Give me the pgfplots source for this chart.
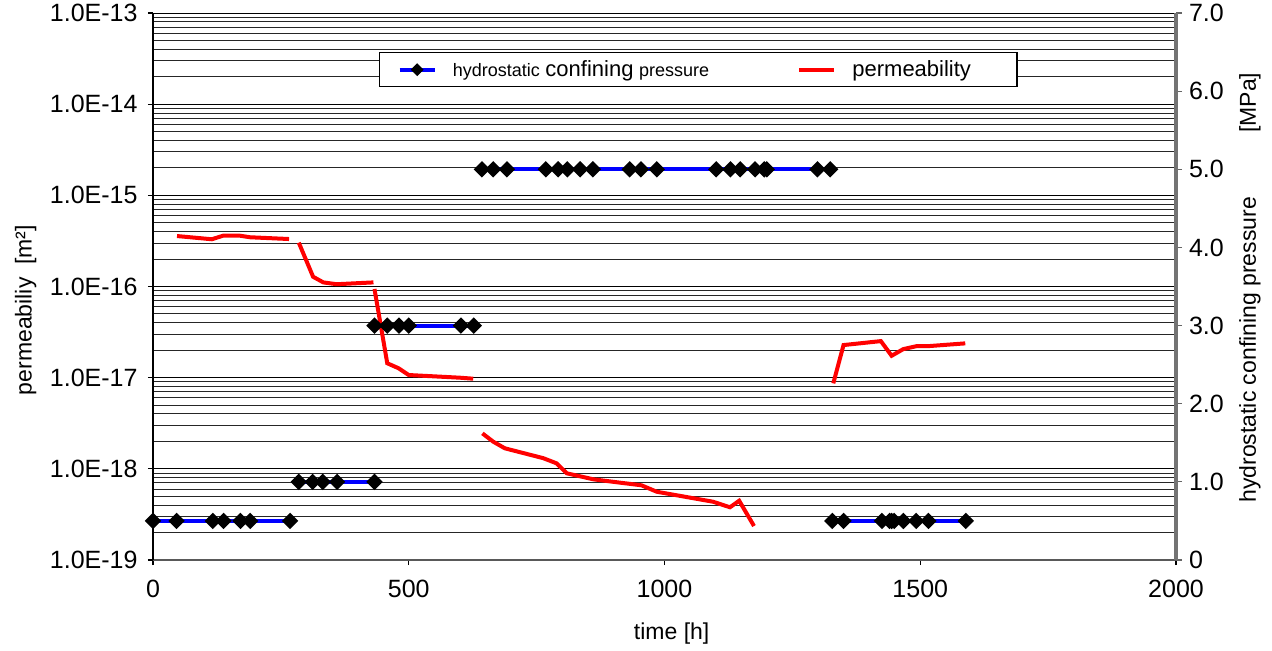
\documentclass[border=0pt]{standalone}
\usepackage{pgfplots}
\pgfplotsset{compat=1.18}
\usepackage{fontspec}
\setmainfont{Liberation Sans}
\newcommand{\tickfont}{\fontsize{12.5}{14}\selectfont}
\newcommand{\labfont}{\fontsize{11.5}{13}\selectfont}
\pgfplotsset{
  pres/.style={blue, line width=2pt, mark=square*, mark size=1.9pt,
     mark options={black, fill=black, rotate=45, solid}},
  perm/.style={red, line width=2pt, no marks},
}
\begin{document}
\begin{tikzpicture}
\path[use as bounding box] (-76.5pt,-45pt) rectangle (559.5pt,280pt);
\begin{axis}[
  at={(0,0)}, anchor=south west,
  scale only axis, width=511.5pt, height=273.5pt,
  xmin=0, xmax=2000, ymode=log, ymin=1e-19, ymax=1e-13,
  axis x line*=bottom, axis y line*=left,
  x axis line style={black!65, line width=1.2pt},
  y axis line style={black, line width=1pt},
  xtick={0,500,1000,1500,2000}, xticklabels={0,500,1000,1500,2000},
  ytick={1e-19,1e-18,1e-17,1e-16,1e-15,1e-14,1e-13},
  yticklabels={1.0E-19,1.0E-18,1.0E-17,1.0E-16,1.0E-15,1.0E-14,1.0E-13},
  minor ytick={2e-19,3e-19,4e-19,5e-19,6e-19,7e-19,8e-19,9e-19,
               2e-18,3e-18,4e-18,5e-18,6e-18,7e-18,8e-18,9e-18,
               2e-17,3e-17,4e-17,5e-17,6e-17,7e-17,8e-17,9e-17,
               2e-16,3e-16,4e-16,5e-16,6e-16,7e-16,8e-16,9e-16,
               2e-15,3e-15,4e-15,5e-15,6e-15,7e-15,8e-15,9e-15,
               2e-14,3e-14,4e-14,5e-14,6e-14,7e-14,8e-14,9e-14},
  ymajorgrids, yminorgrids,
  major grid style={black, line width=0.5pt},
  minor grid style={black!85, line width=0.5pt},
  tick align=outside, major tick length=2.5pt, minor tick length=0pt,
  tick style={black, line width=0.6pt},
  ticklabel style={font=\tickfont},
  yticklabel style={xshift=-1.7pt},
  xticklabel style={yshift=-4pt},
  xlabel={time [h]},
  ylabel={permeabiliy\ \ [m²]},
  xlabel style={font=\labfont, at={(axis description cs:0.507,-0.135)}, anchor=center},
  ylabel style={font=\labfont, at={(axis description cs:-0.1245,0.457)}, anchor=center},
]
\addplot[perm] coordinates {(47,3.58e-16) (115,3.30e-16) (137,3.61e-16) (170,3.61e-16) (190,3.47e-16) (266,3.32e-16)};
\addplot[perm] coordinates {(285,3.03e-16) (313,1.28e-16) (333,1.11e-16) (359,1.06e-16) (431,1.11e-16)};
\addplot[perm] coordinates {(433,9.4e-17) (458,1.44e-17) (480,1.27e-17) (500,1.07e-17) (600,1.0e-17) (626,9.75e-18)};
\addplot[perm] coordinates {(644,2.45e-18) (665,1.99e-18) (688,1.68e-18) (763,1.31e-18) (789,1.15e-18) (809,8.94e-19) (861,7.68e-19) (955,6.6e-19) (985,5.61e-19) (1095,4.36e-19) (1128,3.79e-19) (1146,4.47e-19) (1175,2.36e-19)};
\addplot[perm] coordinates {(1330,8.67e-18) (1350,2.28e-17) (1423,2.52e-17) (1444,1.74e-17) (1467,2.06e-17) (1493,2.22e-17) (1516,2.22e-17) (1588,2.38e-17)};
\end{axis}
\begin{axis}[
  at={(0,0)}, anchor=south west,
  scale only axis, width=511.5pt, height=273.5pt,
  xmin=0, xmax=2000, ymin=0, ymax=7,
  axis x line=none, axis y line*=right,
  y axis line style={black!55, line width=1.6pt},
  ytick={0,1,2,3,4,5,6,7},
  yticklabels={0,1.0,2.0,3.0,4.0,5.0,6.0,7.0},
  tick align=outside, major tick length=3pt, minor tick length=0pt,
  tick style={black!60, line width=0.6pt},
  ticklabel style={font=\tickfont},
  ylabel={hydrostatic confining pressure\hspace{2.8em}[MPa]},
  ylabel style={font=\labfont, at={(axis description cs:1.0723,0.498)}, anchor=center},
  legend columns=2,
  legend style={at={(axis description cs:0.2209,0.9287)}, anchor=north west,
     draw=black, line width=0.6pt, fill=white, inner xsep=9pt, inner ysep=1.8pt,
     /tikz/every odd column/.append style={column sep=6pt},
     /tikz/every even column/.append style={column sep=42pt}},
]
\addlegendimage{legend image code/.code={
   \draw[blue, line width=2pt] (0cm,0cm) -- (0.62cm,0cm);
   \fill[black] (0.31cm,0cm) +(0,2.8pt) -- +(2.8pt,0) -- +(0,-2.8pt) -- +(-2.8pt,0) -- cycle;}}
\addlegendentry{{\fontsize{9}{11}\selectfont hydrostatic} {\fontsize{11}{13}\selectfont confining} {\fontsize{9}{11}\selectfont pressure}}
\addlegendimage{legend image code/.code={
   \draw[red, line width=2pt] (0cm,0cm) -- (0.62cm,0cm);}}
\addlegendentry{{\fontsize{11}{13}\selectfont permeability}\kern12pt\mbox{}}
\addplot[pres, forget plot] coordinates {(0,0.5) (46,0.5) (117,0.5) (138,0.5) (171,0.5) (190,0.5) (268,0.5)};
\addplot[pres, forget plot] coordinates {(285,1.0) (312,1.0) (332,1.0) (360,1.0) (433,1.0)};
\addplot[pres, forget plot] coordinates {(433,3.0) (458,3.0) (481,3.0) (500,3.0) (602,3.0) (627,3.0)};
\addplot[pres, forget plot] coordinates {(643,5) (665,5) (692,5) (768,5) (792,5) (810,5) (835,5) (860,5) (932,5) (954,5) (985,5) (1101,5) (1129,5) (1148,5) (1177,5) (1195,5) (1200,5) (1299,5) (1324,5)};
\addplot[pres, forget plot] coordinates {(1328,0.5) (1350,0.5) (1425,0.5) (1440,0.5) (1444,0.5) (1449,0.5) (1467,0.5) (1492,0.5) (1516,0.5) (1589,0.5)};
\end{axis}
\end{tikzpicture}
\end{document}
